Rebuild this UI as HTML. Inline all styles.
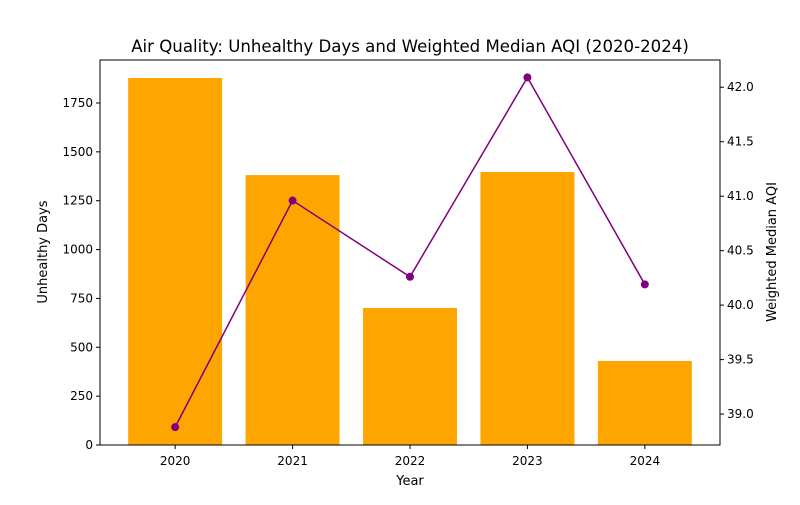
<!DOCTYPE html>
<html><head><meta charset="utf-8"><style>
body{margin:0;background:#fff;font-family:"Liberation Sans","DejaVu Sans",sans-serif;}
text{font-family:"DejaVu Sans","Liberation Sans",sans-serif;}
</style></head><body>
<svg id="chart" width="800" height="500" xmlns="http://www.w3.org/2000/svg">
<rect width="800" height="500" fill="#fff"/>
<text x="410" y="52" text-anchor="middle" font-size="16.6">Air Quality: Unhealthy Days and Weighted Median AQI (2020-2024)</text>
<g id="bars"></g><g id="line"></g><g id="axes"></g>
</svg>
<script>
const years=["2020","2021","2022","2023","2024"];
const unhealthyDays=[1878,1381,701,1397,430];
const medianAQI=[38.88,40.96,40.26,42.09,40.19];
const leftTicks=[0,250,500,750,1000,1250,1500,1750];
const rightTicks=[39.0,39.5,40.0,40.5,41.0,41.5,42.0];
const L=100,R=720,T=60,B=445;
const NS="http://www.w3.org/2000/svg";
const xs=i=>L+(i+0.64)/5.28*(R-L);
const yl=v=>B-v/1970*(B-T);
const yr=v=>B-(v-38.716)/(42.25-38.716)*(B-T);
function mk(tag,attrs,parent){const e=document.createElementNS(NS,tag);for(const k in attrs)e.setAttribute(k,attrs[k]);parent.appendChild(e);return e;}
const gb=document.getElementById('bars'),gl=document.getElementById('line'),ga=document.getElementById('axes');
const bw=0.8/5.28*(R-L);
unhealthyDays.forEach((v,i)=>{const r=mk('rect',{x:xs(i)-bw/2,y:yl(v),width:bw,height:B-yl(v),fill:'#ffa500'},gb);

});
const pl=mk('polyline',{points:medianAQI.map((v,i)=>xs(i)+','+yr(v)).join(' '),fill:'none',stroke:'#800080','stroke-width':1.5},gl);


medianAQI.forEach((v,i)=>{const c=mk('circle',{cx:xs(i),cy:yr(v),r:4,fill:'#800080'},gl);

});
const fr=mk('rect',{x:L,y:T,width:R-L,height:B-T,fill:'none',stroke:'#000','stroke-width':1},ga);


leftTicks.forEach(v=>{const y=yl(v);mk('line',{x1:L-4,x2:L,y1:y,y2:y,stroke:'#000'},ga);
const t=mk('text',{x:L-7,y:y+4,'text-anchor':'end','font-size':12},ga);t.textContent=v;

});
rightTicks.forEach(v=>{const y=yr(v);mk('line',{x1:R,x2:R+4,y1:y,y2:y,stroke:'#000'},ga);
const t=mk('text',{x:R+7,y:y+4,'font-size':12},ga);t.textContent=v.toFixed(1);

});
years.forEach((yv,i)=>{const x=xs(i);mk('line',{x1:x,x2:x,y1:B,y2:B+4,stroke:'#000'},ga);
const t=mk('text',{x:x,y:B+20,'text-anchor':'middle','font-size':12},ga);t.textContent=yv;

});
const xt=mk('text',{x:410,y:485,'text-anchor':'middle','font-size':13},ga);xt.textContent='Year';


const ylt=mk('text',{x:47,y:252,'text-anchor':'middle','font-size':13,transform:'rotate(-90 47 252)'},ga);ylt.textContent='Unhealthy Days';


const yrt=mk('text',{x:776,y:252,'text-anchor':'middle','font-size':13,transform:'rotate(-90 776 252)'},ga);yrt.textContent='Weighted Median AQI';


</script>
</body></html>
